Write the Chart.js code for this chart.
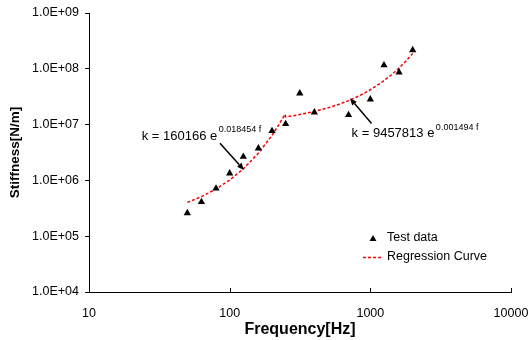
<!DOCTYPE html>
<html><head><meta charset="utf-8">
<script src="https://cdn.jsdelivr.net/npm/chart.js@4/dist/chart.umd.min.js"></script>
<style>html,body{margin:0;padding:0;background:#fff}#wrap{width:528px;height:340px}</style>
</head><body><div id="wrap"><canvas id="c" width="528" height="340"></canvas></div>
<script>
// Test data
const testFreq = [50, 63, 80, 100, 125, 160, 200, 250, 315, 400, 700, 1000, 1250, 1600, 2000];
const testK = [2.6e5, 4.1e5, 7.2e5, 1.34e6, 2.66e6, 3.76e6, 7.7e6, 1.03e7, 3.64e7, 1.66e7, 1.49e7, 2.84e7, 1.16e8, 8.65e7, 2.17e8];
// Regression curve
const curveFreq = [50, 63, 80, 100, 125, 160, 200, 225, 247, 250, 300, 400, 500, 600, 700, 800, 900, 1000, 1200, 1400, 1600, 1800, 2000];
const curveK = [4.03e5, 5.12e5, 7.01e5, 1.014e6, 1.61e6, 3.07e6, 6.41e6, 1.019e7, 1.528e7, 1.374e7, 1.481e7, 1.719e7, 1.996e7, 2.318e7, 2.691e7, 3.125e7, 3.629e7, 4.213e7, 5.681e7, 7.658e7, 1.033e8, 1.392e8, 1.877e8];
// Axis ticks
const xTicks = [10, 100, 1000, 10000];
const yTicks = [1e4, 1e5, 1e6, 1e7, 1e8, 1e9];
// Labels
const seriesNames = ['Test data', 'Regression Curve'];
const eq1 = {main: 'k = 160166 e', sup: '0.018454 f', at: [23.7, 6.25e6], arrowFrom: [85.3, 4.62e6], arrowTo: [126.4, 1.535e6]};
const eq2 = {main: 'k = 9457813 e', sup: '0.001494 f', at: [736, 7.06e6], arrowFrom: [1021, 1.05e7], arrowTo: [716, 2.96e7]};

const FONT = "'Liberation Sans', Arial, sans-serif";

function yFmt(v) {
  const e = Math.round(Math.log10(v));
  return '1.0E+' + (e < 10 ? '0' + e : e);
}

function drawTri(ctx, x, y, r) {
  ctx.beginPath();
  ctx.moveTo(x, y - r);
  ctx.lineTo(x + r * Math.sin(2 * Math.PI / 3), y + r * 0.5);
  ctx.lineTo(x - r * Math.sin(2 * Math.PI / 3), y + r * 0.5);
  ctx.closePath();
  ctx.fill();
}

function arrow(ctx, x1, y1, x2, y2) {
  ctx.save();
  ctx.strokeStyle = '#000'; ctx.fillStyle = '#000'; ctx.lineWidth = 1.5;
  const a = Math.atan2(y2 - y1, x2 - x1);
  const L = 7, W = 3;
  const bx = x2 - L * Math.cos(a), by = y2 - L * Math.sin(a);
  ctx.beginPath(); ctx.moveTo(x1, y1); ctx.lineTo(bx, by); ctx.stroke();
  ctx.beginPath();
  ctx.moveTo(x2, y2);
  ctx.lineTo(bx + W * Math.sin(a), by - W * Math.cos(a));
  ctx.lineTo(bx - W * Math.sin(a), by + W * Math.cos(a));
  ctx.closePath(); ctx.fill();
  ctx.restore();
}

const extras = {
  id: 'extras',
  afterDatasetsDraw(chart) {
    const ctx = chart.ctx;
    const xs = chart.scales.x, ys = chart.scales.y;
    const ca = chart.chartArea;
    ctx.save();
    // inward x tick marks
    ctx.strokeStyle = '#000'; ctx.lineWidth = 1;
    xTicks.forEach(v => {
      const px = Math.round(xs.getPixelForValue(v)) + 0.5;
      ctx.beginPath(); ctx.moveTo(px, ca.bottom); ctx.lineTo(px, ca.bottom - 4); ctx.stroke();
    });
    // equations
    ctx.fillStyle = '#000';
    ctx.textBaseline = 'middle';
    [eq1, eq2].forEach((eq, i) => {
      const x = xs.getPixelForValue(eq.at[0]);
      const y = ys.getPixelForValue(eq.at[1]);
      ctx.font = '13px ' + FONT;
      ctx.fillText(eq.main, x, y);
      const w = ctx.measureText(eq.main).width;
      ctx.font = '9px ' + FONT;
      ctx.fillText(eq.sup, x + w + 1.5, y - 6);
      arrow(ctx, xs.getPixelForValue(eq.arrowFrom[0]), ys.getPixelForValue(eq.arrowFrom[1]),
                 xs.getPixelForValue(eq.arrowTo[0]), ys.getPixelForValue(eq.arrowTo[1]));
    });
    // legend
    const lx = 363, ly1 = 238, ly2 = 257;
    ctx.fillStyle = '#000';
    drawTri(ctx, lx + 10, ly1 + 1, 4);
    ctx.strokeStyle = '#ff0000'; ctx.lineWidth = 1.5; ctx.setLineDash([3, 2]);
    ctx.beginPath(); ctx.moveTo(lx, ly2 + 0.5); ctx.lineTo(lx + 20, ly2 + 0.5); ctx.stroke();
    ctx.setLineDash([]);
    ctx.font = '12.5px ' + FONT;
    ctx.fillStyle = '#000';
    ctx.fillText(seriesNames[0], lx + 24, ly1);
    ctx.fillText(seriesNames[1], lx + 24, ly2);
    ctx.restore();
  }
};

new Chart(document.getElementById('c'), {
  type: 'scatter',
  data: {
    datasets: [
      {
        label: seriesNames[0],
        data: testFreq.map((f, i) => ({x: f, y: testK[i]})),
        pointStyle: 'triangle', pointRadius: 4.2, pointBackgroundColor: '#000', pointBorderColor: '#000', pointBorderWidth: 0,
        showLine: false
      },
      {
        label: seriesNames[1],
        data: curveFreq.map((f, i) => ({x: f, y: curveK[i]})),
        showLine: true, borderColor: '#ff0000', borderWidth: 1.5, borderDash: [3, 2], pointRadius: 0, fill: false, tension: 0
      }
    ]
  },
  options: {
    responsive: false, devicePixelRatio: 1, animation: false,
    layout: {padding: {top: 13, right: 17, left: 0, bottom: 0}},
    plugins: {legend: {display: false}, tooltip: {enabled: false}},
    scales: {
      x: {
        type: 'logarithmic', min: 10, max: 10000,
        afterBuildTicks: s => { s.ticks = xTicks.map(v => ({value: v})); },
        afterFit: s => { s.height = 48; s.paddingRight = 0; s.paddingLeft = 0; },
        ticks: {color: '#000', font: {family: FONT, size: 12.5}, padding: 6, maxRotation: 0, autoSkip: false, callback: v => String(v)},
        grid: {display: false},
        border: {display: true, color: '#000', width: 1},
        title: {display: true, text: 'Frequency[Hz]', color: '#000', font: {family: FONT, size: 16, weight: 'bold'}, padding: {top: 0, bottom: 1}}
      },
      y: {
        type: 'logarithmic', min: 1e4, max: 1e9,
        afterBuildTicks: s => { s.ticks = yTicks.map(v => ({value: v})); },
        afterFit: s => { s.width = 89; s.paddingTop = 0; s.paddingBottom = 0; },
        ticks: {color: '#000', font: {family: FONT, size: 12.5}, padding: 6, autoSkip: false, callback: v => yFmt(v)},
        grid: {display: true, drawOnChartArea: false, drawTicks: true, tickLength: 4, color: '#000', lineWidth: 1},
        border: {display: true, color: '#000', width: 1},
        title: {display: true, text: 'Stiffness[N/m]', color: '#000', font: {family: FONT, size: 13.5, weight: 'bold'}, padding: {top: 7, bottom: 0}}
      }
    }
  },
  plugins: [extras]
});
</script>
</body></html>
